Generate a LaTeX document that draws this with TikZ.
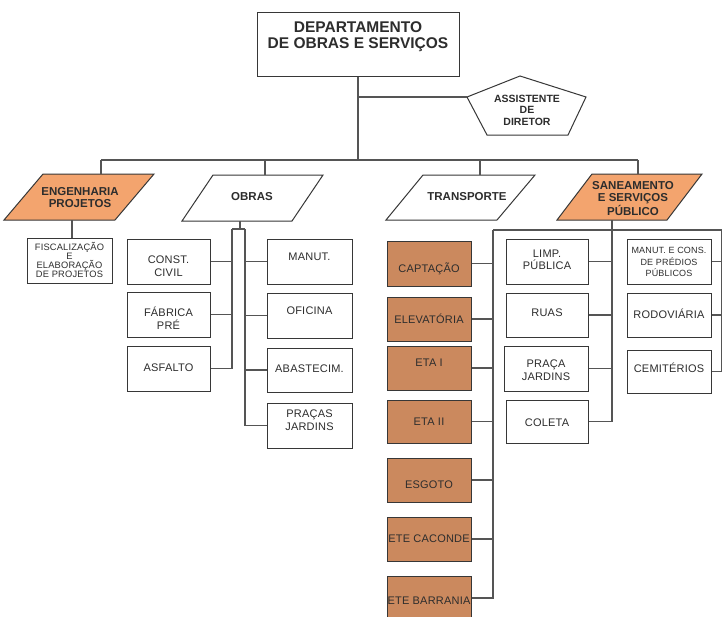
\documentclass[tikz,border=0pt]{standalone}
\usepackage{fontspec}
\setmainfont{Liberation Sans}
\newfontfamily\headfont{Liberation Sans}
\newfontfamily\cellfont[LetterSpace=2]{Liberation Sans}
\definecolor{edgec}{RGB}{55,55,55}
\definecolor{wirec}{RGB}{85,85,85}
\definecolor{paraorange}{RGB}{243,164,110}
\definecolor{boxorange}{RGB}{203,137,94}
\definecolor{txtc}{RGB}{45,45,45}
\tikzset{
  box/.style={draw=edgec, line width=1pt, fill=white, minimum width=84pt,
    minimum height=45pt, inner sep=0pt},
  obox/.style={box, fill=boxorange},
  para/.style={draw=edgec, line width=1pt},
  wire/.style={draw=wirec, line width=1.1pt},
  txt/.style={inner sep=0pt, align=center, text=txtc,
    font=\cellfont\fontsize{11}{12.5}\selectfont},
  smalltxt/.style={inner sep=0pt, align=center, text=txtc,
    font=\cellfont\fontsize{9.3}{9}\selectfont},
  headtxt/.style={inner sep=0pt, align=center, text=txtc,
    font=\headfont\bfseries\fontsize{11.5}{12.5}\selectfont},
  titletxt/.style={inner sep=0pt, align=center, text=txtc,
    font=\bfseries\fontsize{15.5}{16}\selectfont}
}
\begin{document}
\begin{tikzpicture}[x=1pt,y=-1pt]
\useasboundingbox (0,0) rectangle (722,616);
\fill[white] (0,0) rectangle (722,616);
\clip (0,0) rectangle (722,616);

% ---- top: department and assistant ----
\node[box, minimum width=202pt, minimum height=64pt] (dept) at (358,44) {};
\node[titletxt] (dept-t) at (358,37) {DEPARTAMENTO\\DE OBRAS E SERVIÇOS};

\coordinate (as-top) at (520,76);
\coordinate (as-r) at (586,97);
\coordinate (as-br) at (568,135);
\coordinate (as-bl) at (487,135);
\coordinate (as-l) at (467,97);
\draw[para, fill=white] (as-top) -- (as-r) -- (as-br) -- (as-bl) -- (as-l) -- cycle;
\node[headtxt, font=\headfont\bfseries\fontsize{10.5}{11.5}\selectfont] (asst) at (527,110)
  {ASSISTENTE\\DE\\DIRETOR};

\coordinate (bus-l) at (101,160);
\coordinate (bus-r) at (638,160);
\draw[wire] (dept.south) -- (dept.south |- bus-l);
\draw[wire] (dept.south |- as-l) -- (as-l);
\draw[wire] (bus-l) -- (bus-r);

% ---- division parallelograms ----
\draw[para, fill=paraorange] (43,174) -- (154,174) -- (115,220) -- (4,220) -- cycle;
\node[headtxt] (eng) at (80,197.5) {ENGENHARIA\\PROJETOS};
\coordinate (eng-in) at (101,174);
\coordinate (eng-out) at (72,220);

\draw[para, fill=white] (213,175) -- (323,175) -- (292,221) -- (182,221) -- cycle;
\node[headtxt] (obras) at (252,197) {OBRAS};
\coordinate (obras-in) at (265,175);
\coordinate (obras-out) at (240,221);

\draw[para, fill=white] (423,175) -- (535,175) -- (497,220) -- (386,220) -- cycle;
\node[headtxt] (transp) at (467,197) {TRANSPORTE};
\coordinate (transp-in) at (480,175);

\draw[para, fill=paraorange] (592,174) -- (702,174) -- (667,220) -- (557,220) -- cycle;
\node[headtxt] (saneam) at (633,198.5) {SANEAMENTO\\E SERVIÇOS\\PÚBLICO};
\coordinate (san-in) at (638,174);
\coordinate (san-out) at (612,220);

\draw[wire] (bus-l) -- (eng-in);
\draw[wire] (obras-in |- bus-l) -- (obras-in);
\draw[wire] (transp-in |- bus-l) -- (transp-in);
\draw[wire] (bus-r) -- (san-in);

% ---- engenharia ----
\node[box, minimum width=85pt] (fisc) at (69.5,260.5) {};
\node[smalltxt] (fisc-t) at (69.5,260) {FISCALIZAÇÃO\\E\\ELABORAÇÃO\\DE PROJETOS};
\draw[wire] (eng-out) -- (eng-out |- fisc.north);

% ---- obras ----
\node[box, minimum width=83pt] (cc) at (168.5,261.5) {};
\node[txt] (cc-t) at (168.5,266) {CONST.\\CIVIL};
\node[box, minimum width=83pt] (fab) at (168.5,314.5) {};
\node[txt] (fab-t) at (168.5,318) {FÁBRICA\\PRÉ};
\node[box, minimum width=83pt] (asf) at (168.5,368.5) {};
\node[txt] (asf-t) at (168.5,368) {ASFALTO};

\node[box, minimum width=85pt] (man) at (309.5,261.5) {};
\node[txt] (man-t) at (309.5,257) {MANUT.};
\node[box, minimum width=85pt] (ofi) at (309.5,315.5) {};
\node[txt] (ofi-t) at (309.5,311) {OFICINA};
\node[box, minimum width=85pt, minimum height=44pt] (aba) at (309.5,370) {};
\node[txt] (aba-t) at (309.5,369) {ABASTECIM.};
\node[box, minimum width=85pt] (pca) at (309.5,425.5) {};
\node[txt] (pca-t) at (309.5,420) {PRAÇAS\\JARDINS};

\coordinate (obras-cap) at (240,229);
\coordinate (sp-l) at (232,229);
\coordinate (sp-r) at (245,229);
\draw[wire] (obras-out) -- (obras-cap);
\draw[wire] (sp-l) -- (sp-r);
\draw[wire] (sp-l) |- (asf.east);
\draw[wire] (sp-l |- cc.east) -- (cc.east);
\draw[wire] (sp-l |- fab.east) -- (fab.east);
\draw[wire] (sp-r) |- (pca.west);
\draw[wire] (sp-r |- man.west) -- (man.west);
\draw[wire] (sp-r |- ofi.west) -- (ofi.west);
\draw[wire] (sp-r |- aba.west) -- (aba.west);

% ---- saneamento: water and sewage units ----
\node[obox] (cap) at (429,263.5) {};
\node[txt] (cap-t) at (429,269) {CAPTAÇÃO};
\node[obox, minimum height=44pt] (ele) at (429,319) {};
\node[txt] (ele-t) at (429,319) {ELEVATÓRIA};
\node[obox, minimum height=44pt] (eta1) at (429,368) {};
\node[txt] (eta1-t) at (429,363) {ETA I};
\node[obox, minimum height=43pt] (eta2) at (429,421.5) {};
\node[txt] (eta2-t) at (429,422) {ETA II};
\node[obox, minimum height=44pt] (esg) at (429,480) {};
\node[txt] (esg-t) at (429,485) {ESGOTO};
\node[obox, minimum height=44pt] (cac) at (429,539) {};
\node[txt] (cac-t) at (429,539) {ETE CACONDE};
\node[obox, minimum height=44pt] (bar) at (429,598) {};
\node[txt] (bar-t) at (429,601) {ETE BARRANIA};

% ---- saneamento: public services ----
\node[box, minimum width=82pt] (lim) at (547,261.5) {};
\node[txt] (lim-t) at (547,260) {LIMP.\\PÚBLICA};
\node[box, minimum width=82pt, minimum height=44pt] (rua) at (547,315) {};
\node[txt] (rua-t) at (547,313) {RUAS};
\node[box, minimum width=84pt] (pja) at (546,368.5) {};
\node[txt] (pja-t) at (546,370) {PRAÇA\\JARDINS};
\node[box, minimum width=82pt, minimum height=43pt] (col) at (547,421.5) {};
\node[txt] (col-t) at (547,423) {COLETA};

\node[box] (mcp) at (669,261.5) {};
\node[smalltxt, font=\cellfont\fontsize{9}{11.5}\selectfont] (mcp-t) at (669,262)
  {MANUT. E CONS.\\DE PRÉDIOS\\PÚBLICOS};
\node[box, minimum height=44pt] (rod) at (669,315) {};
\node[txt] (rod-t) at (669,314) {RODOVIÁRIA};
\node[box, minimum height=43pt] (cem) at (669,371.5) {};
\node[txt] (cem-t) at (669,368) {CEMITÉRIOS};

\coordinate (sb-l) at (493,230);
\coordinate (sb-r) at (721.5,230);
\draw[wire] (sb-l) -- (sb-r);
\draw[wire] (sb-l) |- (bar.east);
\draw[wire] (sb-l |- cap.east) -- (cap.east);
\draw[wire] (sb-l |- ele.east) -- (ele.east);
\draw[wire] (sb-l |- eta1.east) -- (eta1.east);
\draw[wire] (sb-l |- eta2.east) -- (eta2.east);
\draw[wire] (sb-l |- esg.east) -- (esg.east);
\draw[wire] (sb-l |- cac.east) -- (cac.east);

\draw[wire] (san-out) |- (col.east);
\draw[wire] (san-out |- lim.east) -- (lim.east);
\draw[wire] (san-out |- rua.east) -- (rua.east);
\draw[wire] (san-out |- pja.east) -- (pja.east);

\draw[wire] (sb-r) |- (cem.east);
\draw[wire] (sb-r |- mcp.east) -- (mcp.east);
\draw[wire] (sb-r |- rod.east) -- (rod.east);
\end{tikzpicture}
\end{document}
